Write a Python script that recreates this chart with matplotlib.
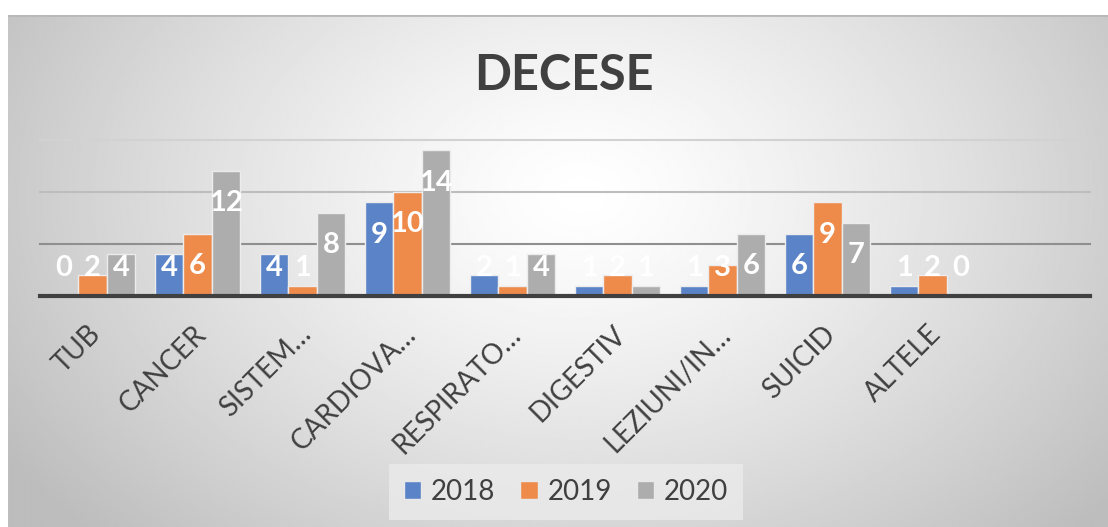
# DECESE - grafic cu bare grupate (stil Excel)
import numpy as np
import matplotlib
matplotlib.use("Agg")
import matplotlib.pyplot as plt
import matplotlib.transforms as mtransforms
from matplotlib.patches import Patch

# date
categorii = ['TUB', 'CANCER', 'SISTEM…', 'CARDIOVA…', 'RESPIRATO…',
             'DIGESTIV', 'LEZIUNI/IN…', 'SUICID', 'ALTELE']
ani = ['2018', '2019', '2020']
val_2018 = [0, 4, 4, 9, 2, 1, 1, 6, 1]
val_2019 = [2, 6, 1, 10, 1, 2, 3, 9, 2]
val_2020 = [4, 12, 8, 14, 4, 1, 6, 7, 0]
culori = ['#5b84c8', '#ee8b4b', '#adadad']

plt.rcParams['font.family'] = ['Lato', 'DejaVu Sans']

fig = plt.figure(figsize=(11.08, 5.27), dpi=100)
fig.patch.set_facecolor('white')

# fundal cu gradient radial
bg = fig.add_axes([8 / 1108, 0, 1 - 8 / 1108, (527 - 15) / 527])
h, w = 256, 512
yy, xx = np.mgrid[0:h, 0:w]
cx, cy = 0.52 * w, 0.35 * h
r = np.sqrt(((xx - cx) / (0.62 * w)) ** 2 + ((yy - cy) / (0.95 * h)) ** 2)
r = np.clip(r, 0, 1)
grad = 1.0 - 0.26 * r ** 1.3
bg.imshow(grad, cmap='gray', vmin=0, vmax=1, aspect='auto',
          extent=[0, 1, 0, 1], origin='upper', interpolation='bilinear')
bg.axhline(1, color='#b8b8b8', lw=2)
bg.set_axis_off()

ax = fig.add_axes([40 / 1108, (527 - 296) / 527, 1050 / 1108, 156 / 527])
ax.patch.set_alpha(0)

x = np.arange(len(categorii))
lat = 0.27
serii = [val_2018, val_2019, val_2020]
for i, (vals, col) in enumerate(zip(serii, culori)):
    pos = x + (i - 1) * lat
    ax.bar(pos, vals, width=lat, color=col, edgecolor='#ececec', linewidth=1, zorder=3)
    for px, v in zip(pos, vals):
        ax.text(px, max(v - 3.1, 2.7), str(v), ha='center', va='center',
                color='white', fontsize=21, fontweight='bold', zorder=4)

ax.set_xlim(-0.5, 9.5)
ax.set_ylim(0, 15)
for yv, c in [(5, '#8f8f8f'), (10, '#bdbdbd'), (15, '#d2d2d2')]:
    ax.axhline(yv, color=c, lw=1.5, zorder=1, clip_on=False)
ax.axhline(0, color='#404040', lw=3, zorder=5, clip_on=False)
for s in ax.spines.values():
    s.set_visible(False)
ax.set_yticks([])
ax.set_xticks(x)
ax.set_xticklabels(categorii, rotation=45, ha='right', va='top',
                   rotation_mode='anchor', fontsize=20, color='#404040')
ax.tick_params(axis='x', length=0, pad=18)
deplasare = mtransforms.ScaledTranslation(-5 / 100, 0, fig.dpi_scale_trans)
for lbl in ax.get_xticklabels():
    lbl.set_transform(lbl.get_transform() + deplasare)

fig.text(564 / 1108, 1 - 75 / 527, 'DECESE', ha='center', va='center',
         fontsize=35, fontweight='bold', color='#404040')

handles = [Patch(facecolor=c, edgecolor='#e8e8e8') for c in culori]
leg = fig.legend(handles, ani, loc='center', bbox_to_anchor=(566 / 1108, 1 - 492 / 527),
                 ncol=3, frameon=True, fontsize=20, handlelength=0.62, handleheight=0.62,
                 handletextpad=0.35, columnspacing=0.9, borderpad=0.55, borderaxespad=0,
                 fancybox=False, labelcolor='#404040')
leg.get_frame().set_facecolor('#ebebeb')
leg.get_frame().set_edgecolor('none')
leg.get_frame().set_alpha(0.8)

fig.savefig('out.png', dpi=100)
